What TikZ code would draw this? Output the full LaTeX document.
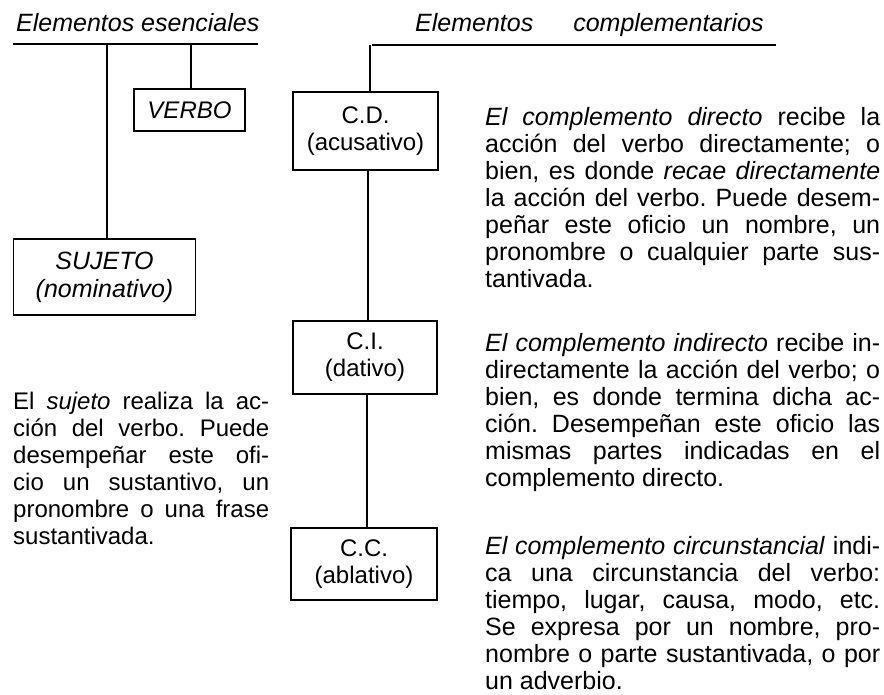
\documentclass[tikz,border=0pt]{standalone}
\usepackage{fontspec}
\setmainfont{Liberation Sans}
\tolerance=10000
\hbadness=10000
\hfuzz=4pt
\hyphenpenalty=10000
\frenchspacing
\begin{document}
\begin{tikzpicture}[x=1pt,y=-1pt,
  boxnode/.style={draw, line width=1.1pt, align=center, inner sep=0pt, font=\fontsize{24}{27}\selectfont},
  paranode/.style={anchor=base west, inner sep=0pt, align=justify, font=\fontsize{24}{27}\selectfont\frenchspacing},
  wideparanode/.style={paranode, font=\fontsize{25}{27}\selectfont\frenchspacing},
  titlenode/.style={anchor=base west, inner sep=0pt, font=\fontsize{25}{30}\selectfont\itshape},
  conn/.style={line width=1.1pt}]
\fill[white] (0,0) rectangle (884,694);
\useasboundingbox (0,0) rectangle (884,694);

% titles
\node[titlenode] (t1) at (16,31) {Elementos esenciales};
\node[titlenode] (t2) at (415,31) {Elementos\hspace{40pt}complementarios};

% boxes
\node[boxnode, minimum width=111pt, minimum height=42pt, font=\fontsize{24}{27}\selectfont\itshape] (verbo) at (189.5,110) {VERBO};
\node[boxnode, minimum width=182pt, minimum height=76pt, font=\fontsize{25}{28}\selectfont\itshape] (sujeto) at (104.5,277) {SUJETO\\(nominativo)};
\node[boxnode, minimum width=145pt, minimum height=78pt] (cd) at (365.5,131) {C.D.\\(acusativo)};
\node[boxnode, minimum width=144pt, minimum height=73pt] (ci) at (365,357.5) {C.I.\\(dativo)};
\node[boxnode, minimum width=146pt, minimum height=72pt] (cc) at (364,564) {C.C.\\(ablativo)};

% left tree
\coordinate (ula) at (13,44);
\coordinate (ulb) at (258,44);
\draw[conn] (ula) -- (ulb);
\coordinate (sk) at (107,44);
\draw[conn] (sk) -- (sk |- sujeto.north);
\coordinate (vk) at (191,44);
\draw[conn] (vk) -- (vk |- verbo.north);

% right tree
\coordinate (ura) at (372,45);
\coordinate (urb) at (776,45);
\draw[conn] (ura) -- (urb);
\coordinate (ck) at (370,45);
\draw[conn] (ck) -- (ck |- cd.north);
\coordinate (ik) at (368,0);
\draw[conn] (ik |- cd.south) -- (ik |- ci.north);
\coordinate (ak) at (367,0);
\draw[conn] (ak |- ci.south) -- (ak |- cc.north);

% paragraphs
\node[paranode, text width=256pt] (ps) at (13,409) {El \textit{sujeto} realiza la ac-\linebreak
ción del verbo. Puede\linebreak
desempeñar este ofi-\linebreak
cio un sustantivo, un\linebreak
pronombre o una frase\linebreak
sustantivada.};

\node[wideparanode, text width=395pt] (pd) at (485,125) {\textit{El complemento directo} recibe la\linebreak
acción del verbo directamente; o\linebreak
bien, es donde \textit{recae directamente}\linebreak
la acción del verbo. Puede desem-\linebreak
peñar este oficio un nombre, un\linebreak
pronombre o cualquier parte sus-\linebreak
tantivada.};

\node[wideparanode, text width=395pt] (pi) at (485,351) {\textit{El complemento indirecto} recibe in-\linebreak
directamente la acción del verbo; o\linebreak
bien, es donde termina dicha ac-\linebreak
ción. Desempeñan este oficio las\linebreak
mismas partes indicadas en el\linebreak
complemento directo.};

\node[wideparanode, text width=395pt] (pc) at (485,554) {\textit{El complemento circunstancial} indi-\linebreak
ca una circunstancia del verbo:\linebreak
tiempo, lugar, causa, modo, etc.\linebreak
Se expresa por un nombre, pro-\linebreak
nombre o parte sustantivada, o por\linebreak
un adverbio.};
\end{tikzpicture}
\end{document}
